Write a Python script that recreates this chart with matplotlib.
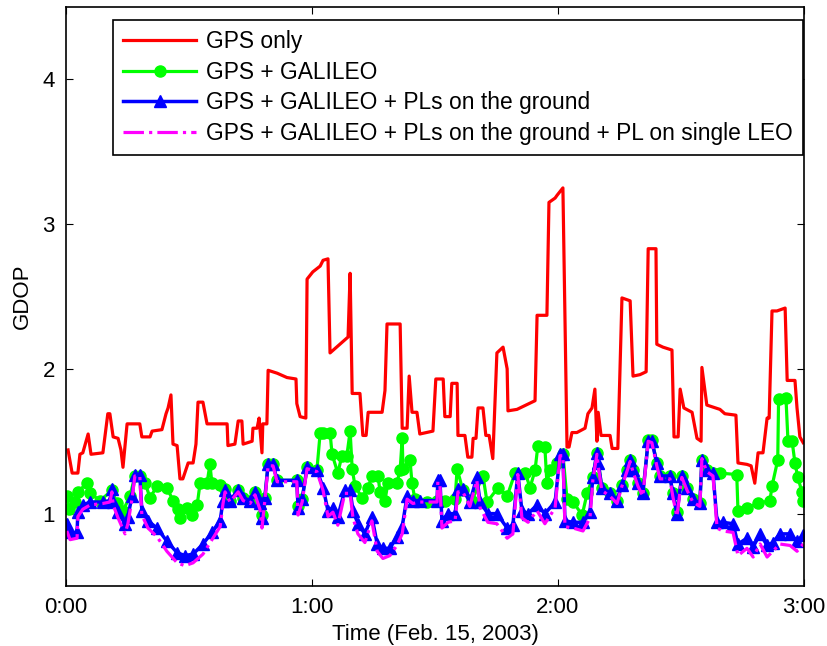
import matplotlib
matplotlib.use("Agg")
import matplotlib.pyplot as plt

# time in minutes after 0:00, GDOP values
gps_t = [0.5, 1.5, 2.9, 3.4, 4.1, 5.4, 6.1, 9.0, 10.2, 10.7, 11.5, 12.7, 13.4, 13.9, 14.9, 18.0,
         18.5, 20.5, 21.0, 23.4, 24.4, 24.9, 25.6, 26.1, 27.1, 27.8, 28.5, 29.8, 31.0, 31.7, 32.2,
         33.4, 34.4, 39.3, 39.5, 41.2, 42.0, 42.9, 43.2, 45.4, 45.6, 46.6, 47.1, 47.8, 48.0, 49.0,
         49.3, 51.5, 53.9, 56.1, 56.3, 57.1, 58.5, 58.8, 60.2, 62.0, 62.7, 63.9, 64.4, 65.6, 68.8,
         69.3, 69.8, 71.7, 72.4, 73.2, 73.7, 77.1, 77.8, 78.3, 81.5, 82.0, 83.2, 83.7, 84.4, 85.6,
         86.3, 89.5, 90.2, 92.0, 92.4, 93.7, 94.1, 95.4, 95.6, 97.3, 98.0, 99.0, 99.3, 100.0,
         100.5, 101.7, 102.4, 103.2, 104.1, 105.1, 106.6, 107.6, 107.8, 110.0, 114.4, 114.9,
         117.3, 117.8, 119.3, 119.8, 121.2, 122.2, 122.7, 123.4, 124.6, 126.6, 127.3, 128.3,
         129.0, 129.5, 129.8, 130.5, 132.7, 133.2, 134.6, 135.6, 137.6, 138.3, 140.0, 141.5,
         142.0, 143.9, 144.1, 145.6, 147.8, 148.3, 149.3, 149.8, 150.7, 152.7, 153.9, 154.9,
         155.1, 156.3, 159.5, 160.7, 163.4, 163.9, 166.1, 167.1, 168.0, 168.8, 170.0, 171.0,
         171.5, 172.2, 173.4, 175.4, 175.9, 177.8, 178.3, 179.0, 179.8]
gps_only = [1.44, 1.28, 1.28, 1.41, 1.42, 1.55, 1.41, 1.42, 1.69, 1.69, 1.53, 1.52, 1.44, 1.32, 1.62, 1.62,
            1.53, 1.53, 1.57, 1.58, 1.69, 1.73, 1.82, 1.48, 1.47, 1.24, 1.24, 1.35, 1.35, 1.48, 1.77,
            1.77, 1.62, 1.62, 1.47, 1.48, 1.64, 1.64, 1.48, 1.50, 1.59, 1.59, 1.66, 1.42, 1.62, 1.62,
            1.99, 1.97, 1.94, 1.93, 1.76, 1.67, 1.66, 2.62, 2.67, 2.71, 2.75, 2.76, 2.11, 2.14, 2.22,
            2.66, 1.83, 1.83, 1.54, 1.54, 1.70, 1.70, 1.85, 2.31, 2.31, 1.59, 1.59, 1.95, 1.70, 1.70,
            1.55, 1.57, 1.93, 1.93, 1.67, 1.67, 1.90, 1.90, 1.54, 1.54, 1.39, 1.39, 1.52, 1.52,
            1.73, 1.73, 1.54, 1.54, 1.38, 2.11, 2.15, 2.00, 1.71, 1.72, 1.78, 2.37,
            2.37, 3.15, 3.18, 3.20, 3.25, 1.46, 1.46, 1.56, 1.56, 1.59, 1.69, 1.73,
            1.86, 1.50, 1.70, 1.54, 1.54, 1.45, 1.45, 2.49, 2.47, 1.95, 1.96, 1.98,
            2.83, 2.83, 2.17, 2.15, 2.13, 1.53, 1.53, 1.86, 1.73, 1.70, 1.52, 1.50,
            2.01, 1.75, 1.72, 1.69, 1.68, 1.35, 1.34, 1.33, 1.21, 1.42, 1.42, 1.66,
            1.66, 2.40, 2.40, 2.42, 1.92, 1.92, 1.73, 1.53, 1.49]

gal_t = [0.2, 0.7, 2.2, 2.9, 5.1, 5.9, 8.3, 11.2, 12.4, 13.9, 15.6, 16.8, 18.0, 19.3, 20.5, 22.2,
         24.6, 26.1, 27.3, 27.8, 29.5, 30.7, 32.0, 32.7, 34.4, 35.1, 35.6, 37.6, 38.8, 40.0, 42.0,
         43.2, 44.9, 46.1, 47.3, 47.8, 48.5, 49.3, 50.5, 51.5, 56.3, 56.6, 57.6, 58.8, 61.2, 62.0,
         62.7, 64.4, 64.9, 66.3, 67.3, 68.5, 69.3, 69.8, 70.5, 72.2, 73.7, 74.6, 76.1, 76.6, 77.8,
         78.5, 80.7, 81.5, 82.0, 82.2, 83.9, 84.4, 85.1, 88.0, 90.5, 92.5, 94.9, 95.4, 96.8, 99.0,
         101.7, 102.7, 105.4, 107.6, 109.5, 112.0, 113.2, 114.4, 115.1, 116.8, 117.3, 118.0,
         119.8, 121.2, 122.2, 123.7, 125.9, 127.1, 128.5, 129.5, 130.7, 132.7, 134.4, 135.6,
         136.8, 137.6, 138.3, 139.5, 140.7, 142.0, 142.9, 144.1, 144.9, 147.3, 148.0, 149.0,
         150.2, 151.5, 152.9, 154.6, 155.1, 156.3, 157.8, 159.5, 163.6, 163.9, 166.1, 168.8,
         171.7, 172.2, 173.6, 173.8, 175.6, 176.1, 177.1, 177.8, 178.5, 179.5, 179.8]
gps_galileo = [1.12, 1.03, 1.08, 1.15, 1.21, 1.14, 1.09, 1.16, 1.07, 1.02, 1.12, 1.26, 1.26, 1.21, 1.11, 1.19,
               1.18, 1.09, 1.03, 0.97, 1.04, 0.99, 1.06, 1.21, 1.21, 1.34, 1.21, 1.20, 1.17, 1.09, 1.16,
               1.11, 1.09, 1.15, 1.07, 0.99, 1.11, 1.34, 1.34, 1.23, 1.23, 1.05, 1.10, 1.32, 1.30, 1.56,
               1.56, 1.56, 1.41, 1.28, 1.40, 1.40, 1.57, 1.31, 1.19, 1.11, 1.18, 1.26, 1.26, 1.15, 1.09,
               1.21, 1.21, 1.30, 1.52, 1.31, 1.37, 1.21, 1.10, 1.08, 1.09, 1.09, 1.10, 1.31, 1.16, 1.09,
               1.26, 1.08, 1.18, 1.12, 1.28, 1.28, 1.18, 1.30, 1.47, 1.46, 1.21, 1.30,
               1.35, 1.41, 1.10, 1.08, 0.99, 1.14, 1.25, 1.42, 1.18, 1.14, 1.09, 1.20,
               1.30, 1.37, 1.30, 1.21, 1.14, 1.51, 1.51, 1.35, 1.26, 1.26, 1.14, 1.01,
               1.26, 1.18, 1.10, 1.07, 1.37, 1.30, 1.28, 1.28, 1.27, 1.02, 1.04, 1.07,
               1.09, 1.19, 1.37, 1.79, 1.80, 1.50, 1.50, 1.35, 1.25, 1.15, 1.09]

pl_t = [0.2, 1.0, 2.7, 2.9, 4.1, 5.9, 9.0, 10.7, 11.2, 11.5, 12.7, 14.4, 15.1, 16.1, 16.8, 18.0,
        18.5, 20.0, 22.2, 24.6, 27.1, 29.0, 31.0, 33.4, 35.6, 37.6, 38.3, 38.8, 40.0, 42.0, 43.2,
        44.9, 46.1, 47.3, 47.8, 48.5, 49.3, 50.5, 51.5, 56.3, 56.6, 57.6, 58.8, 61.2, 62.7, 63.9,
        65.1, 66.3, 68.0, 69.3, 70.0, 71.2, 72.9, 74.6, 75.9, 77.3, 79.0, 80.7, 82.0, 83.2, 84.6,
        86.3, 90.5, 90.7, 91.2, 91.7, 93.2, 94.9, 95.6, 96.8, 98.5, 100.2, 101.0, 102.9, 105.1,
        107.6, 109.0, 110.2, 111.2, 112.7, 114.9, 116.8, 119.3, 120.5, 121.2, 121.7, 123.7,
        126.1, 127.8, 128.5, 129.5, 129.8, 130.7, 132.7, 134.4, 135.6, 136.8, 137.6, 138.3,
        139.5, 140.7, 142.0, 142.9, 144.1, 144.9, 147.3, 148.0, 149.0, 150.2, 151.5, 152.9,
        154.6, 155.1, 156.3, 157.8, 158.8, 160.2, 162.7, 163.9, 166.1, 167.6, 169.3, 171.0,
        172.4, 174.1, 176.6, 178.3, 179.8]
pl_ground = [0.93, 0.87, 0.87, 1.01, 1.06, 1.08, 1.08, 1.09, 1.17, 1.08, 1.01, 0.93, 0.98, 1.12, 1.27, 1.27,
             1.02, 0.95, 0.90, 0.81, 0.73, 0.71, 0.72, 0.79, 0.87, 0.95, 1.09, 1.16, 1.09, 1.16, 1.11,
             1.09, 1.15, 1.07, 0.97, 1.11, 1.34, 1.34, 1.23, 1.23, 1.04, 1.10, 1.32, 1.30, 1.18, 1.02,
             1.04, 0.98, 1.16, 1.16, 1.02, 0.93, 0.86, 0.98, 0.79, 0.76, 0.76, 0.84, 0.91, 1.12, 1.09,
             1.09, 1.09, 1.23, 1.23, 0.95, 1.00, 1.00, 1.17, 1.17, 1.08, 1.25, 1.08, 1.00, 1.00,
             0.90, 0.92, 1.28, 1.02, 1.00, 1.06, 1.00, 1.08, 1.41, 1.41, 0.95, 0.94,
             0.94, 1.01, 1.25, 1.42, 1.35, 1.18, 1.14, 1.09, 1.20, 1.30, 1.37, 1.30,
             1.21, 1.14, 1.50, 1.50, 1.35, 1.26, 1.26, 1.14, 1.00, 1.26, 1.18, 1.10,
             1.07, 1.37, 1.30, 1.28, 0.94, 0.94, 0.93, 0.79, 0.83, 0.77, 0.86, 0.78,
             0.80, 0.86, 0.86, 0.81, 0.85]
pl_leo = [0.88, 0.82, 0.83, 0.98, 1.03, 1.06, 1.07, 1.08, 1.15, 1.06, 0.97, 0.86, 0.93, 1.10, 1.26, 1.26,
          0.99, 0.90, 0.84, 0.74, 0.66, 0.64, 0.66, 0.72, 0.82, 0.91, 1.07, 1.15, 1.08, 1.15, 1.09,
          1.07, 1.13, 1.03, 0.90, 1.09, 1.33, 1.33, 1.22, 1.22, 0.99, 1.08, 1.31, 1.29, 1.16, 0.98,
          1.01, 0.92, 1.14, 1.14, 0.97, 0.86, 0.80, 0.95, 0.74, 0.69, 0.71, 0.78, 0.86, 1.10, 1.07,
          1.08, 1.08, 1.22, 1.20, 0.90, 0.94, 0.95, 1.15, 1.15, 1.05, 1.23, 1.04, 0.94, 0.93,
          0.83, 0.86, 1.27, 0.97, 0.94, 1.02, 0.93, 1.04, 1.40, 1.40, 0.91, 0.90,
          0.88, 0.97, 1.23, 1.41, 1.33, 1.16, 1.12, 1.07, 1.19, 1.29, 1.36, 1.29,
          1.19, 1.12, 1.50, 1.49, 1.33, 1.24, 1.24, 1.12, 0.98, 1.25, 1.16, 1.08,
          1.05, 1.38, 1.29, 1.26, 0.90, 0.88, 0.87, 0.71, 0.76, 0.70, 0.79, 0.70,
          0.74, 0.79, 0.78, 0.74, 0.79]

labels = ['GPS only', 'GPS + GALILEO', 'GPS + GALILEO + PLs on the ground',
          'GPS + GALILEO + PLs on the ground + PL on single LEO']
tick_pos = [0, 60, 120, 180]
tick_labels = ['0:00', '1:00', '2:00', '3:00']

plt.rcParams['font.family'] = ['Liberation Sans', 'DejaVu Sans']
plt.rcParams['font.size'] = 16

fig = plt.figure(figsize=(8.28, 6.46), dpi=100)
ax = fig.add_axes([0.0797, 0.0929, 0.8913, 0.8963])

ax.plot(gps_t, gps_only, color='red', lw=2.3, label=labels[0])
ax.plot(gal_t, gps_galileo, color=(0, 1, 0), lw=2.3, marker='o', ms=8, label=labels[1])
ax.plot(pl_t, pl_ground, color='blue', lw=2.5, marker='^', ms=9, label=labels[2])
ax.plot(pl_t, pl_leo, color='magenta', lw=2.3, ls='-.', label=labels[3])

ax.set_xlim(0, 180)
ax.set_ylim(0.5, 4.5)
ax.set_xticks(tick_pos)
ax.set_xticklabels(tick_labels)
ax.set_yticks([1, 2, 3, 4])
ax.tick_params(direction='in', top=True, right=True, length=5, width=0.8, pad=8)
for s in ax.spines.values():
    s.set_linewidth(1.2)

ax.set_xlabel('Time (Feb. 15, 2003)', labelpad=4)
ax.set_ylabel('GDOP', labelpad=7)

leg = ax.legend(loc='upper right', bbox_to_anchor=(0.999, 0.978), numpoints=1,
                handlelength=3.2, handletextpad=0.45, labelspacing=0.34,
                borderpad=0.45, borderaxespad=0, fancybox=False, framealpha=1,
                edgecolor='black', fontsize=16.4)
leg.get_frame().set_linewidth(1.2)

plt.savefig('out.png', dpi=100)
